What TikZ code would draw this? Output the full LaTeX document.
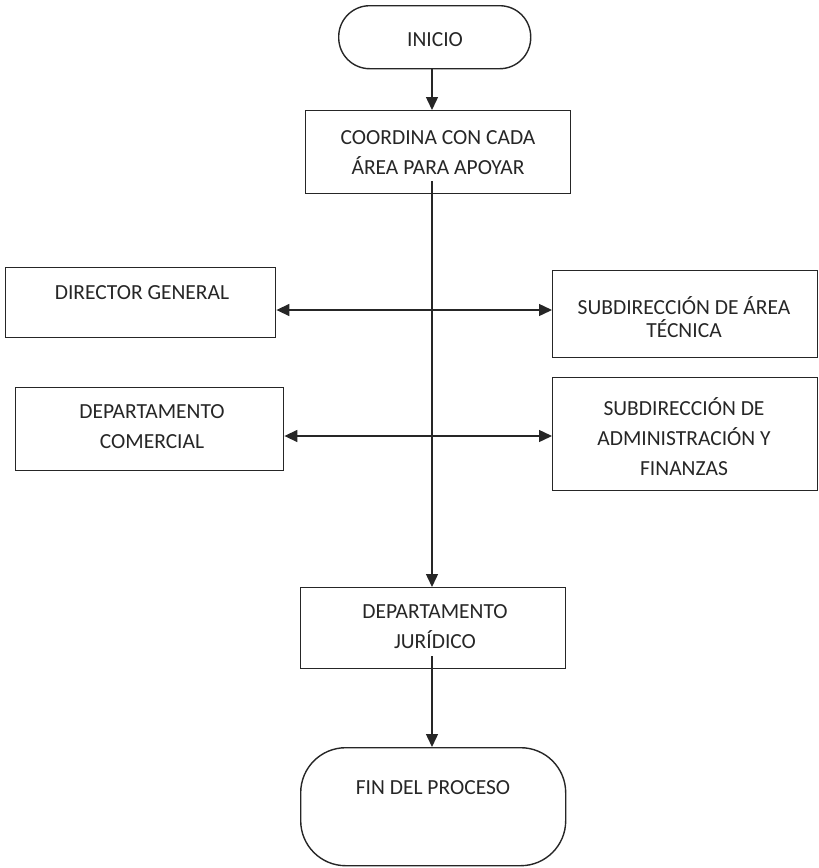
\documentclass[tikz,border=0pt]{standalone}
\usepackage{fontspec}
\setmainfont{Carlito}
\usetikzlibrary{arrows.meta}
\begin{document}
\begin{tikzpicture}[x=1pt,y=-1pt,
  ink/.style={draw=black!85, line width=1.4pt},
  box/.style={ink, rectangle, inner sep=0pt, anchor=north west},
  term/.style={box, rounded corners=#1},
  label/.style={text=black!85, font=\fontsize{21.5}{30}\selectfont, align=center, inner sep=0pt},
  flow/.style={ink, -{Triangle[length=13pt,width=12pt]}},
  both/.style={ink, {Triangle[length=13pt,width=12pt]}-{Triangle[length=13pt,width=12pt]}}
]
\useasboundingbox (0,0) rectangle (819,868);

% terminals and process boxes
\node[term=31pt, minimum width=192pt, minimum height=63pt] (ini) at (338,5) {};
\node[label] at (435,40) {INICIO};

\node[box, minimum width=265pt, minimum height=83pt] (coord) at (305,110) {};
\node[label] at (438,153) {COORDINA CON CADA\\ÁREA PARA APOYAR};

\node[box, minimum width=270pt, minimum height=70pt] (dg) at (5,267) {};
\node[label] at (142,293) {DIRECTOR GENERAL};

\node[box, minimum width=265pt, minimum height=87pt] (sat) at (552,270) {};
\node[label] at (684,317) {SUBDIRECCIÓN DE ÁREA\\[-7pt]TÉCNICA};

\node[box, minimum width=268pt, minimum height=83pt] (dc) at (15,387) {};
\node[label] at (152,427) {DEPARTAMENTO\\COMERCIAL};

\node[box, minimum width=265pt, minimum height=113pt] (saf) at (552,377) {};
\node[label] at (684,437) {SUBDIRECCIÓN DE\\ADMINISTRACIÓN Y\\FINANZAS};

\node[box, minimum width=265pt, minimum height=81pt] (jur) at (300,587) {};
\node[label] at (435,627) {DEPARTAMENTO\\JURÍDICO};

\node[term=45pt, minimum width=265pt, minimum height=118pt] (fin) at (300,747) {};
\node[label] at (433,788) {FIN DEL PROCESO};

% connectors
\coordinate (rowA) at (432,310);
\coordinate (rowB) at (432,436);

\draw[flow] (ini.south -| 432,0) -- (coord.north -| 432,0);
\draw[flow] ([yshift=13pt]coord.south -| 432,0) -- (jur.north -| 432,0);
\draw[both] (dg.east |- rowA) -- (sat.west |- rowA);
\draw[both] (dc.east |- rowB) -- (saf.west |- rowB);
\draw[flow] ([yshift=13pt]jur.south -| 432,0) -- (fin.north -| 432,0);
\end{tikzpicture}
\end{document}
